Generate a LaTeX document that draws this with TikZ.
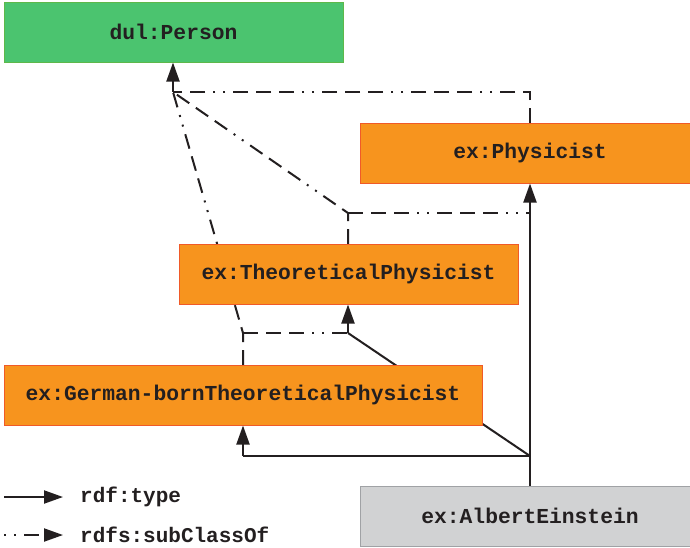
\documentclass[tikz,border=0pt]{standalone}
\usepackage{fontspec}
\setmonofont{Liberation Mono}
\usetikzlibrary{arrows.meta}
\definecolor{pgreen}{HTML}{4BC46F}
\definecolor{pgreenb}{HTML}{5DB84A}
\definecolor{porange}{HTML}{F7941E}
\definecolor{porangeb}{HTML}{F05A28}
\definecolor{pgray}{HTML}{D1D2D3}
\definecolor{pgrayb}{HTML}{A0A2A5}
\definecolor{ink}{HTML}{231F20}
\tikzset{
  box/.style={rectangle, minimum width=339pt, minimum height=60pt, inner sep=0pt,
    line width=1pt, font=\ttfamily\bfseries\fontsize{21.3}{25}\selectfont, text=ink},
  greenbox/.style={box, fill=pgreen, draw=pgreenb},
  orangebox/.style={box, fill=porange, draw=porangeb},
  graybox/.style={box, fill=pgray, draw=pgrayb},
  legtext/.style={anchor=west, inner sep=0pt, font=\ttfamily\bfseries\fontsize{21}{25}\selectfont, text=ink},
  conn/.style={draw=ink, line width=2pt},
  typeline/.style={conn},
  subline/.style={conn, dash pattern=on 15pt off 8pt on 15pt off 8pt on 15pt off 8pt on 2pt off 8pt on 2pt off 8pt},
  tip/.style={-{Triangle[length=19pt,width=13pt]}}
}
\begin{document}
\begin{tikzpicture}[x=1pt,y=-1pt]
\clip (0,0) rectangle (690,547);
\fill[white] (0,0) rectangle (690,547);
% junction coordinates
\coordinate (jp) at (173,92);
\coordinate (jpr) at (530,92);
\coordinate (jtp) at (348,213);
\coordinate (jtpr) at (530,213);
\coordinate (jg) at (243,333);
\coordinate (jgr) at (348,333);
\coordinate (je) at (530,456);
\coordinate (jel) at (243,456);
% node positions
\path
  (173.5,32) coordinate (cperson)
  (530,153) coordinate (cphys)
  (348.5,274) coordinate (ctp)
  (243,395) coordinate (cgb)
  (530,516) coordinate (cein);
% connectors behind nodes
\path[subline] (530,123) -- (jpr) -- (jp);
\path[subline] (348,244) -- (jtp) -- (jp);
\path[subline] (jtp) -- (jtpr);
\path[subline] (243,365) -- (jg) -- (jp);
\path[subline] (jg) -- (jgr);
\path[typeline] (je) -- (jgr);
\path[typeline] (je) -- (jel);
% nodes
\node[greenbox] (person) at (cperson) {dul:Person};
\node[orangebox] (phys) at (cphys) {ex:Physicist};
\node[orangebox] (tp) at (ctp) {ex:TheoreticalPhysicist};
\node[orangebox, minimum width=478pt] (gb) at (cgb) {ex:German-bornTheoreticalPhysicist};
\node[graybox] (ein) at (cein) {ex:AlbertEinstein};
% arrows into nodes
\draw[typeline, tip] (jp) -- (person.south -| jp);
\draw[typeline, tip] (ein.north -| je) -- (phys.south -| je);
\draw[typeline, tip] (jgr) -- (tp.south -| jgr);
\draw[typeline, tip] (jel) -- (gb.south -| jel);
% legend
\coordinate (lt0) at (4,497);
\coordinate (lt1) at (63,497);
\coordinate (ls0) at (4,535);
\coordinate (ls1) at (63,535);
\node[legtext] (ltype) at (80,497) {rdf:type};
\node[legtext] (lsub) at (80,535) {rdfs:subClassOf};
\draw[typeline, tip] (lt0) -- (lt1);
\draw[subline, dash phase=69pt, tip] (ls0) -- (ls1);
\end{tikzpicture}
\end{document}
